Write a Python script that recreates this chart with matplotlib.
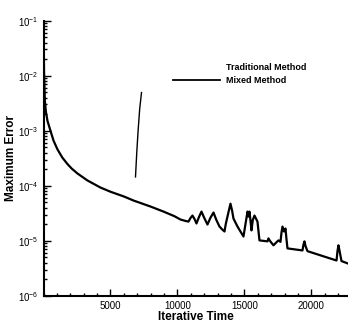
import matplotlib
matplotlib.use("Agg")
import matplotlib.pyplot as plt
import numpy as np
from matplotlib.lines import Line2D
from matplotlib.ticker import LogLocator, MultipleLocator, LogFormatterSciNotation, NullFormatter

plt.rcParams['font.family'] = ['Liberation Sans', 'DejaVu Sans']
plt.rcParams['mathtext.default'] = 'regular'

# Mixed method curve (iterative time, maximum error)
mixedIter = [0, 40, 100, 180, 300, 420, 520, 750, 1040, 1400, 1790, 2100, 2540,
             3280, 4250, 5000, 6000, 6720, 7990, 8960, 9780,
             10224, 10600, 10821, 10970, 11119, 11270, 11418, 11600, 11791, 12000,
             12239, 12450, 12687, 12900, 13134, 13350, 13508, 13600, 13750, 13955,
             14080, 14179, 14478, 14925, 15100, 15224, 15299, 15373, 15450, 15522,
             15620, 15746, 15970, 16119, 16716, 16791, 16900, 17164, 17400, 17537,
             17687, 17760, 17836, 17948, 18060, 18130, 18209, 19328, 19400, 19478,
             19560, 19702, 21870, 21940, 22015, 22100, 22239, 22700]
mixedErr = [1e-1, 1.2e-2, 3.5e-3, 2.2e-3, 1.5e-3, 1.2e-3, 1e-3, 6.6e-4, 4.6e-4,
            3.27e-4, 2.48e-4, 2.06e-4, 1.67e-4, 1.25e-4, 9.3e-5, 7.8e-5, 6.4e-5,
            5.4e-5, 4.2e-5, 3.4e-5, 2.8e-5,
            2.44e-5, 2.3e-5, 2.24e-5, 2.6e-5, 2.88e-5, 2.5e-5, 2.07e-5, 2.7e-5,
            3.4e-5, 2.6e-5, 1.98e-5, 2.6e-5, 3.27e-5, 2.4e-5, 1.82e-5, 1.6e-5,
            1.48e-5, 2.0e-5, 2.9e-5, 4.74e-5, 3.5e-5, 2.54e-5, 1.82e-5, 1.2e-5,
            2.2e-5, 3.4e-5, 2.76e-5, 3.4e-5, 2.3e-5, 1.55e-5, 2.4e-5, 2.88e-5,
            2.24e-5, 1.02e-5, 9.8e-6, 1.11e-5, 1.0e-5, 8.3e-6, 9.5e-6, 1.02e-5,
            9.6e-6, 1.4e-5, 1.82e-5, 1.48e-5, 1.68e-5, 1.1e-5, 7.3e-6, 6.7e-6,
            8.5e-6, 9.8e-6, 8e-6, 6.5e-6, 4.4e-6, 6.5e-6, 8.3e-6, 6.5e-6, 4.3e-6,
            3.9e-6]

# Traditional method (only a short fragment survives in the figure)
tradIter = [6866, 6960, 7060, 7180, 7314]
tradErr = [1.45e-4, 4e-4, 1e-3, 2.5e-3, 4.94e-3]

fig = plt.figure(figsize=(3.48, 3.27), dpi=100)
ax = fig.add_axes([0.125, 0.095, 0.874, 0.842])

ax.plot(tradIter, tradErr, color='black', linewidth=1.0)
ax.plot(mixedIter, mixedErr, color='black', linewidth=1.6,
        solid_joinstyle='round')

ax.set_yscale('log')
ax.set_xlim(0, 22700)
ax.set_ylim(1e-6, 1e-1)

ax.xaxis.set_minor_locator(MultipleLocator(1000))
ax.set_xticks([5000, 10000, 15000, 20000])
ax.yaxis.set_major_locator(LogLocator(base=10, numticks=10))
ax.yaxis.set_minor_locator(LogLocator(base=10, subs=np.arange(2, 10), numticks=10))
ax.yaxis.set_major_formatter(LogFormatterSciNotation())
ax.yaxis.set_minor_formatter(NullFormatter())

ax.tick_params(which='both', direction='in', labelsize=7, width=1, top=False, right=False)
ax.tick_params(which='major', length=5)
ax.tick_params(which='minor', length=2.5)

for side in ['top', 'right']:
    ax.spines[side].set_visible(False)
for side in ['left', 'bottom']:
    ax.spines[side].set_linewidth(1.5)

ax.set_xlabel('Iterative Time', fontsize=8.5, fontweight='bold', labelpad=0)
ax.set_ylabel('Maximum Error', fontsize=8.5, fontweight='bold', labelpad=1)

handles = [Line2D([], [], color='none'),
           Line2D([], [], color='black', linewidth=1.3)]
ax.legend(handles, ['Traditional Method', 'Mixed Method'], loc='upper left',
          bbox_to_anchor=(0.4, 0.874), frameon=False, handlelength=5.2,
          handletextpad=0.6, labelspacing=0.45, prop={'size': 6.5, 'weight': 'bold'})

fig.savefig('out.png', dpi=100)
